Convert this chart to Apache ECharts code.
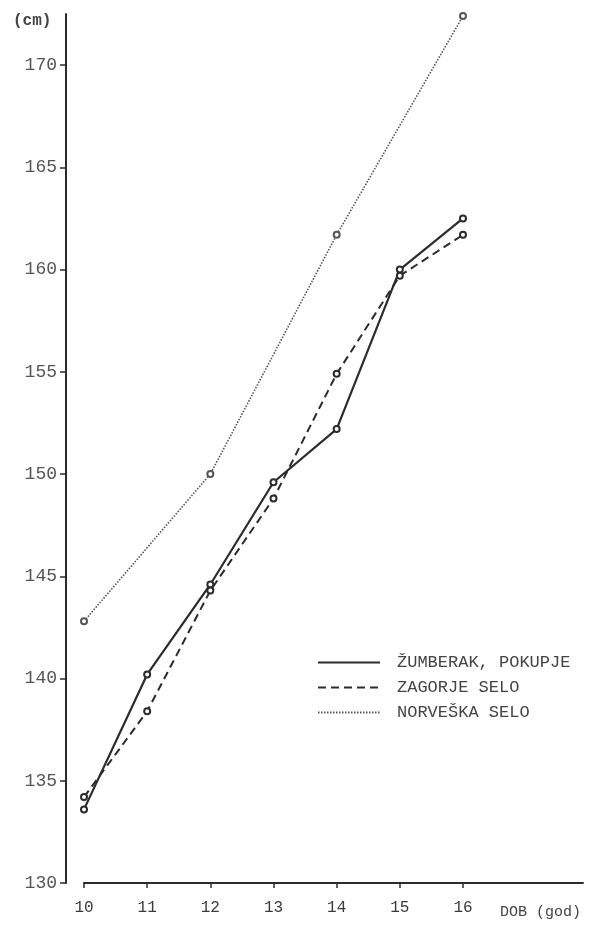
<!DOCTYPE html>
<html>
<head>
<meta charset="utf-8">
<script src="https://cdn.jsdelivr.net/npm/echarts@6/dist/echarts.min.js"></script>
<style>
  html, body { margin: 0; padding: 0; background: #fff; }
  #chart { width: 616px; height: 928px; }
</style>
</head>
<body>
<div id="chart"></div>
<script>
// Age in years (DOB)
const ages = [10, 11, 12, 13, 14, 15, 16];
// Mean body height (cm)
const zumberakHeights = [133.6, 140.2, 144.6, 149.6, 152.2, 160.0, 162.5];
const zagorjeHeights = [134.2, 138.4, 144.3, 148.8, 154.9, 159.7, 161.7];
const norveskaAges = [10, 12, 14, 16];
const norveskaHeights = [142.8, 150.0, 161.7, 172.4];

const seriesNames = ['ŽUMBERAK, POKUPJE', 'ZAGORJE SELO', 'NORVEŠKA SELO'];
const yTicks = [130, 135, 140, 145, 150, 155, 160, 165, 170];
const xTicks = [10, 11, 12, 13, 14, 15, 16];

const FONT = '"Liberation Mono", "DejaVu Sans Mono", monospace';
const INK = '#2b2b2b';

const pairs = (xs, ys) => xs.map((x, i) => [x, ys[i]]);

const chart = echarts.init(document.getElementById('chart'), null, { renderer: 'canvas' });

chart.setOption({
  backgroundColor: '#ffffff',
  animation: false,
  title: [
    { text: '(cm)', left: 8, top: 8,
      textStyle: { fontFamily: FONT, fontSize: 16, fontWeight: 'bold', color: '#444' } },
    { text: 'DOB (god)', right: 30, top: 900,
      textStyle: { fontFamily: FONT, fontSize: 15, fontWeight: 'normal', color: '#444' } }
  ],
  grid: { left: 84, right: 33, top: 14, bottom: 45 },
  xAxis: {
    type: 'value',
    min: 10,
    max: 17.9,
    axisLine: { show: true, lineStyle: { color: INK, width: 2 } },
    axisTick: { show: true, length: 5, customValues: xTicks, lineStyle: { color: INK, width: 1.5 } },
    axisLabel: { customValues: xTicks, margin: 17, fontFamily: FONT, fontSize: 16, color: '#3a3a3a' },
    splitLine: { show: false }
  },
  yAxis: {
    type: 'value',
    min: 130,
    max: 172.5,
    offset: 18,
    axisLine: { show: true, lineStyle: { color: INK, width: 2 } },
    axisTick: { show: true, length: 6, customValues: yTicks, lineStyle: { color: INK, width: 1.5 } },
    axisLabel: { customValues: yTicks, margin: 9, fontFamily: FONT, fontSize: 18, color: '#555' },
    splitLine: { show: false }
  },
  legend: {
    orient: 'vertical',
    left: 312,
    top: 649,
    itemWidth: 62,
    itemHeight: 12,
    itemGap: 8,
    itemStyle: { opacity: 0 },
    textStyle: { fontFamily: FONT, fontSize: 17, color: '#444', padding: [0, 0, 0, 12] },
    data: seriesNames
  },
  series: [
    {
      name: seriesNames[0],
      type: 'line',
      data: pairs(ages, zumberakHeights),
      symbol: 'emptyCircle',
      symbolSize: 6,
      clip: false,
      lineStyle: { color: INK, width: 2.2, type: 'solid' },
      itemStyle: { color: INK, borderColor: '#444', borderWidth: 1.5 }
    },
    {
      name: seriesNames[1],
      type: 'line',
      data: pairs(ages, zagorjeHeights),
      symbol: 'emptyCircle',
      symbolSize: 6,
      clip: false,
      lineStyle: { color: INK, width: 2, type: [8, 5] },
      itemStyle: { color: INK, borderColor: '#444', borderWidth: 1.5 }
    },
    {
      name: seriesNames[2],
      type: 'line',
      data: pairs(norveskaAges, norveskaHeights),
      symbol: 'emptyCircle',
      symbolSize: 6,
      clip: false,
      lineStyle: { color: '#555', width: 1.6, type: [1.5, 1.5] },
      itemStyle: { color: '#555', borderColor: '#555', borderWidth: 1.5 }
    }
  ]
});
</script>
</body>
</html>
